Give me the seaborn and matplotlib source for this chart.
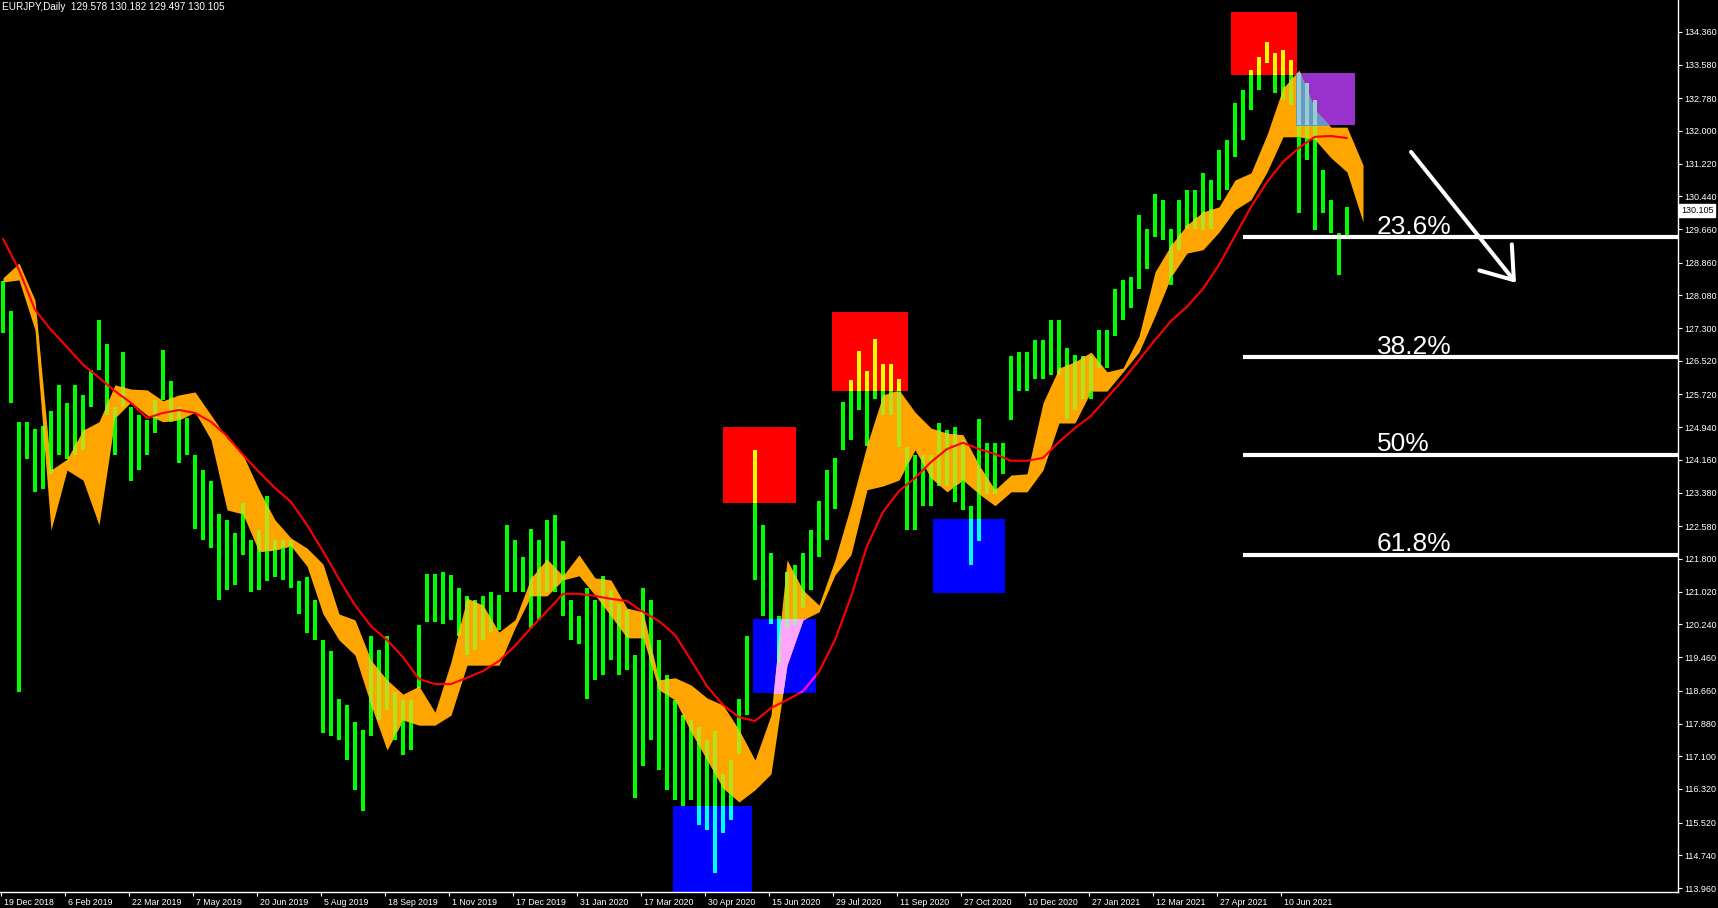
import numpy as np
import pandas as pd
import seaborn as sns
import matplotlib.pyplot as plt
import matplotlib.transforms as mtransforms
from matplotlib.patches import Rectangle, FancyArrowPatch, ArrowStyle

# ---- data (EURJPY daily) ----
symbol_info = "EURJPY,Daily  129.578 130.182 129.497 130.105"
last_price = 130.105

# high / low of every 4th daily bar
bar_high = [128.43, 127.71, 125.07, 125.07, 124.90, 124.97, 125.33, 125.95, 125.52, 125.95,
            125.71, 126.30, 127.50, 126.92, 125.42, 126.73, 125.42, 125.23, 125.11, 125.59,
            126.78, 126.04, 125.42, 125.16, 124.28, 123.92, 123.66, 122.87, 122.73, 122.42,
            123.14, 122.25, 122.49, 123.30, 122.25, 122.25, 122.25, 121.28, 121.37, 120.82,
            119.87, 119.61, 118.46, 118.32, 117.92, 117.73, 119.97, 119.63, 119.97, 118.63,
            118.44, 118.44, 120.23, 121.44, 121.44, 121.49, 121.42, 121.11, 120.92, 120.82,
            120.92, 121.01, 120.94, 122.61, 122.25, 121.85, 122.52, 122.25, 122.73, 122.85,
            122.23, 120.82, 120.44, 121.11, 120.82, 121.40, 121.06, 120.73, 120.59, 119.51,
            121.11, 120.82, 119.87, 119.03, 118.44, 118.08, 117.96, 117.80, 117.49, 117.70,
            116.68, 117.01, 118.46, 119.97, 124.40, 122.61, 121.94, 120.44, 121.49, 121.66,
            121.94, 122.49, 123.18, 123.92, 124.21, 125.54, 126.06, 126.76, 126.28, 127.04,
            126.45, 126.45, 126.09, 124.47, 124.28, 124.28, 124.28, 125.04, 124.87, 124.95,
            124.64, 123.06, 125.14, 124.57, 124.57, 124.57, 126.64, 126.73, 126.73, 127.02,
            127.02, 127.50, 127.50, 126.83, 126.66, 126.64, 126.64, 127.26, 127.26, 128.23,
            128.45, 128.52, 130.00, 129.67, 130.50, 130.36, 129.67, 130.36, 130.59, 130.59,
            131.00, 130.83, 131.55, 131.79, 132.67, 132.98, 133.45, 133.76, 134.12, 133.86,
            133.93, 133.69, 133.38, 133.14, 132.74, 131.07, 130.36, 129.57, 130.18]
bar_low = [127.19, 125.52, 118.63, 124.18, 123.40, 123.47, 123.83, 124.28, 124.18, 124.28,
           124.40, 125.42, 126.30, 125.23, 124.28, 125.42, 123.66, 123.92, 124.28, 124.80,
           125.59, 125.07, 124.09, 124.28, 122.52, 122.25, 122.06, 120.82, 121.06, 121.18,
           121.90, 121.01, 121.06, 121.28, 121.37, 121.30, 121.11, 120.49, 120.04, 119.87,
           117.65, 117.58, 117.49, 117.01, 116.29, 115.79, 117.58, 117.96, 118.20, 117.49,
           117.13, 117.25, 118.73, 120.30, 120.30, 120.25, 120.35, 119.97, 119.51, 119.63,
           119.87, 120.06, 120.11, 121.01, 121.01, 121.01, 120.16, 120.35, 121.01, 121.01,
           120.44, 119.87, 119.78, 118.46, 118.92, 119.03, 119.39, 119.03, 119.15, 116.11,
           116.87, 117.49, 116.77, 116.30, 116.06, 115.91, 116.06, 115.46, 115.34, 114.32,
           115.27, 115.58, 117.15, 118.08, 121.30, 120.44, 120.25, 119.32, 120.16, 120.23,
           120.63, 121.06, 121.85, 122.25, 122.99, 124.40, 124.64, 125.35, 124.49, 125.61,
           125.23, 125.23, 124.47, 122.49, 122.49, 123.07, 123.07, 123.54, 123.54, 123.16,
           122.97, 121.66, 122.23, 123.35, 123.35, 123.83, 125.11, 125.81, 125.81, 126.09,
           126.09, 126.19, 126.19, 125.14, 125.35, 125.61, 125.61, 126.35, 126.35, 127.11,
           127.50, 127.78, 128.23, 128.71, 129.47, 129.40, 128.33, 129.17, 129.67, 129.67,
           129.64, 129.67, 130.36, 130.59, 131.38, 131.79, 132.50, 132.98, 133.62, 132.91,
           132.74, 132.62, 130.05, 131.31, 129.64, 130.05, 129.57, 128.57, 129.50]

# red moving average, every 8th bar
ma_values = [129.43, 128.69, 127.74, 127.26, 126.85, 126.43, 126.12, 125.80, 125.52, 125.16,
             125.28, 125.35, 125.28, 125.07, 124.73, 124.28, 123.87, 123.49, 123.16, 122.61,
             121.99, 121.32, 120.70, 120.20, 119.87, 119.46, 118.94, 118.82, 118.82, 118.97,
             119.13, 119.37, 119.73, 120.16, 120.56, 120.97, 120.97, 120.92, 120.85, 120.80,
             120.54, 120.32, 119.99, 119.39, 118.77, 118.32, 118.03, 117.94, 118.25, 118.44,
             118.65, 119.11, 119.87, 120.90, 122.11, 122.92, 123.42, 123.73, 124.11, 124.42,
             124.57, 124.42, 124.30, 124.14, 124.14, 124.21, 124.59, 124.92, 125.21, 125.64,
             126.07, 126.54, 127.02, 127.47, 127.81, 128.24, 128.81, 129.50, 130.19, 130.78,
             131.26, 131.60, 131.86, 131.88, 131.83]

# orange cloud edges, every 8th bar
cloud_top = [128.50, 128.85, 127.97, 123.92, 124.18, 124.87, 125.07, 125.95, 125.85, 125.83,
             125.57, 125.71, 125.78, 125.23, 124.68, 124.28, 123.45, 122.73, 122.30, 122.06,
             121.68, 120.49, 120.35, 119.39, 118.92, 118.58, 118.77, 118.15, 119.35, 120.87,
             120.70, 120.06, 120.35, 121.35, 121.80, 121.40, 121.90, 121.35, 121.30, 120.63,
             120.54, 118.92, 118.97, 118.80, 118.49, 118.32, 117.73, 117.01, 118.08, 121.78,
             121.06, 120.70, 121.78, 123.09, 124.52, 125.71, 125.83, 125.30, 124.92, 124.80,
             124.76, 124.04, 123.45, 123.80, 123.83, 125.52, 126.35, 126.50, 126.73, 126.26,
             126.35, 127.11, 128.64, 129.28, 129.76, 130.07, 130.19, 130.83, 131.00, 131.91,
             133.02, 133.45, 132.50, 132.09, 132.09, 131.19]
cloud_bottom = [128.40, 128.45, 127.26, 122.49, 123.92, 123.68, 122.61, 125.16, 125.54, 125.23,
                125.07, 125.11, 125.30, 124.64, 122.97, 122.87, 121.97, 122.01, 122.11, 121.63,
                120.49, 119.87, 119.51, 118.32, 117.25, 117.96, 117.84, 117.84, 118.08, 119.27,
                119.27, 119.27, 120.16, 120.92, 120.92, 121.30, 121.40, 120.94, 120.44, 119.92,
                119.92, 118.68, 118.44, 117.68, 117.01, 116.34, 116.01, 116.30, 116.68, 119.27,
                120.35, 120.54, 121.42, 121.90, 123.45, 123.54, 123.68, 124.40, 123.73, 123.40,
                123.68, 123.35, 123.07, 123.40, 123.40, 123.92, 125.04, 125.04, 125.80, 125.80,
                126.26, 126.73, 127.59, 128.52, 129.09, 129.17, 129.59, 130.12, 130.36, 131.02,
                131.86, 131.86, 131.79, 131.36, 131.02, 129.83]

# highlight rectangles (bar index from / to, price top / bottom)
box_start = [360, 335, 375, 414.5, 465, 614, 646.5]
box_end = [396.5, 374.5, 406.5, 452.5, 501, 647, 676]
box_top = [124.95, 115.91, 120.37, 127.69, 122.75, 134.84, 133.38]
box_bottom = [123.13, 113.80, 118.61, 125.80, 120.99, 133.34, 132.14]
box_color = ['#FF0000', '#0000FF', '#0000FF', '#FF0000', '#0000FF', '#FF0000', '#9932CC']

fib_levels = [129.47, 126.61, 124.28, 121.90]
fib_labels = ['23.6%', '38.2%', '50%', '61.8%']
fib_from = 620
fib_text_at = 687

arrow_from = (704, 131.50)
arrow_to = (756.5, 128.38)

date_labels = ['19 Dec 2018', '6 Feb 2019', '22 Mar 2019', '7 May 2019', '20 Jun 2019',
               '5 Aug 2019', '18 Sep 2019', '1 Nov 2019', '17 Dec 2019', '31 Jan 2020',
               '17 Mar 2020', '30 Apr 2020', '15 Jun 2020', '29 Jul 2020', '11 Sep 2020',
               '27 Oct 2020', '10 Dec 2020', '27 Jan 2021', '12 Mar 2021', '27 Apr 2021',
               '10 Jun 2021']
price_ticks = [134.360, 133.580, 132.780, 132.000, 131.220, 130.440, 129.660, 128.860,
               128.080, 127.300, 126.520, 125.720, 124.940, 124.160, 123.380, 122.580,
               121.800, 121.020, 120.240, 119.460, 118.660, 117.880, 117.100, 116.320,
               115.520, 114.740, 113.960]

bars = pd.DataFrame({'bar': np.arange(len(bar_high)) * 4, 'high': bar_high, 'low': bar_low})
ma = pd.DataFrame({'bar': np.arange(len(ma_values)) * 8, 'ma': ma_values})
cloud = pd.DataFrame({'bar': np.arange(len(cloud_top)) * 8, 'top': cloud_top, 'bottom': cloud_bottom})


def hex2rgb(h):
    return tuple(int(h[i:i + 2], 16) for i in (1, 3, 5))


def xor(a, b):
    # MT4 draws the rectangles in background mode, colours combine by XOR
    ra, rb = hex2rgb(a), hex2rgb(b)
    return '#%02X%02X%02X' % tuple(x ^ y for x, y in zip(ra, rb))


ORANGE = '#FFA500'
LIME = '#00FF00'
RED = '#FF0000'
BAR_LW = 1.5


def draw_bars(color, z):
    return ax.vlines(bars['bar'], bars['low'], bars['high'], color=color, lw=BAR_LW,
                     antialiased=False, zorder=z)


sns.set_theme(style="dark", rc={"axes.facecolor": "black", "figure.facecolor": "black"})
plt.rcParams['font.family'] = ['Liberation Sans', 'DejaVu Sans']

fig = plt.figure(figsize=(17.18, 9.08), dpi=100)
ax = fig.add_axes([0, 16 / 908, 1678 / 1718, 892 / 908])
ax.set_facecolor('black')
ax.grid(False)

# rectangles
for l, r, t, b, c in zip(box_start, box_end, box_top, box_bottom, box_color):
    ax.add_patch(Rectangle((l, b), r - l, t - b, facecolor=c, edgecolor='none', zorder=1))

# cloud + bars + MA
cl = ax.fill_between(cloud['bar'], cloud['bottom'], cloud['top'], color=ORANGE, lw=0, zorder=2)
cloud_path = cl.get_paths()[0]
draw_bars(LIME, 3)
oc = draw_bars('#B4E11E', 4)
oc.set_clip_path(cloud_path, ax.transData)
sns.lineplot(data=ma, x='bar', y='ma', color=RED, linewidth=1.5, ax=ax, zorder=5, legend=False)

# colours inside the rectangles
for l, r, t, b, c in zip(box_start, box_end, box_top, box_bottom, box_color):
    clip = mtransforms.TransformedBbox(mtransforms.Bbox([[l, b], [r, t]]), ax.transData)
    p = ax.fill_between(cloud['bar'], cloud['bottom'], cloud['top'], color=xor(ORANGE, c), lw=0, zorder=6)
    p.set_clip_box(clip)
    v = draw_bars(xor(LIME, c), 7)
    v.set_clip_box(clip)
    if c == '#0000FF':
        v2 = draw_bars('#B4E6B4', 7.5)
        v2.set_clip_box(clip)
        v2.set_clip_path(cloud_path, ax.transData)
    m, = ax.plot(ma['bar'], ma['ma'], color=xor(RED, c), lw=1.5, zorder=8)
    m.set_clip_box(clip)

# fibonacci levels
ax.hlines(fib_levels, fib_from, 840, color='white', lw=3, zorder=9)
for lvl, txt in zip(fib_levels, fib_labels):
    ax.annotate(txt, (fib_text_at, lvl), xytext=(0, 2.5), textcoords='offset points',
                color='white', fontsize=19, ha='left', va='baseline', zorder=10)

arrow = FancyArrowPatch(arrow_from, arrow_to,
                        arrowstyle=ArrowStyle('->', head_length=2.1, head_width=1.5),
                        mutation_scale=10, color='white', lw=2.9, shrinkA=0, shrinkB=0, zorder=10)
ax.add_patch(arrow)

# axes
ax.set_xlim(-1.5, 837.5)
ax.set_ylim(113.865, 135.12)
ax.set_xlabel('')
ax.set_ylabel('')
for s in ['top', 'left']:
    ax.spines[s].set_visible(False)
for s in ['right', 'bottom']:
    ax.spines[s].set_visible(True)
    ax.spines[s].set_color('white')
    ax.spines[s].set_linewidth(1)

ax.yaxis.tick_right()
ax.set_yticks(price_ticks)
ax.set_yticklabels(['%.3f' % p for p in price_ticks])
ax.set_xticks([-1 + 32 * n for n in range(len(date_labels))])
ax.set_xticklabels(date_labels)
ax.tick_params(axis='y', right=True, left=False, labelright=True, labelleft=False,
               colors='white', length=3, width=0.8, pad=1.5, labelsize=6.5)
ax.tick_params(axis='x', bottom=True, colors='white', length=3, width=0.8, pad=1, labelsize=6.3)
shift = mtransforms.ScaledTranslation(3 / 100, 0, fig.dpi_scale_trans)
for lab in ax.get_xticklabels():
    lab.set_ha('left')
    lab.set_transform(lab.get_transform() + shift)

# last price tag on the scale
tag_tr = mtransforms.blended_transform_factory(ax.transAxes, ax.transData)
ax.text(1.0 + 3 / 1678, last_price, '%.3f' % last_price, transform=tag_tr, color='black',
        fontsize=6.5, ha='left', va='center', clip_on=False, zorder=11,
        bbox=dict(facecolor='white', edgecolor='white', pad=1.2))

fig.text(2 / 1718, 1 - 2 / 908, symbol_info, color='white', fontsize=7.2, ha='left', va='top')

fig.savefig('out.png', dpi=100, facecolor='black')
